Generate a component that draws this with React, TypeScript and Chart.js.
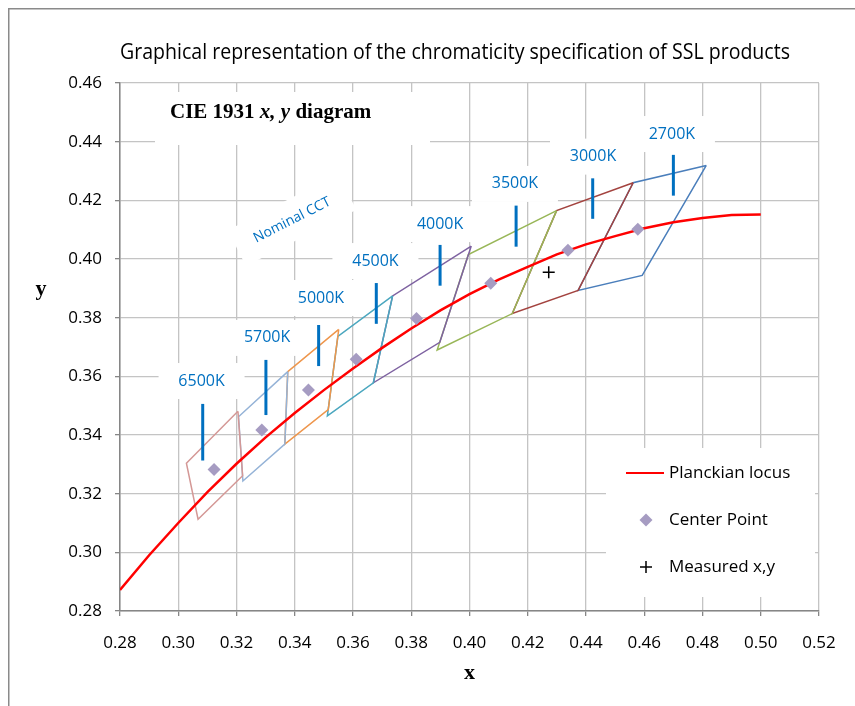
import React, { useEffect, useRef } from 'react';
import { Chart, registerables } from 'chart.js';

Chart.register(...registerables);

// ---------- data ----------
const cctNames = ['6500K', '5700K', '5000K', '4500K', '4000K', '3500K', '3000K', '2700K'];
const cctColors = ['#D49896', '#95B3D7', '#EE964C', '#4BA7BF', '#7E62A1', '#98B657', '#A3433F', '#4A7EBB'];
const centerX = [0.3123, 0.3287, 0.3447, 0.3611, 0.3818, 0.4073, 0.4338, 0.4578];
const centerY = [0.3282, 0.3417, 0.3553, 0.3658, 0.3797, 0.3917, 0.4030, 0.4101];
const quadX = [
  [0.3205, 0.3028, 0.3068, 0.3221, 0.3205],
  [0.3376, 0.3207, 0.3222, 0.3366, 0.3376],
  [0.3551, 0.3376, 0.3366, 0.3515, 0.3551],
  [0.3736, 0.3548, 0.3512, 0.3670, 0.3736],
  [0.4006, 0.3736, 0.3670, 0.3898, 0.4006],
  [0.4299, 0.3996, 0.3889, 0.4147, 0.4299],
  [0.4562, 0.4299, 0.4147, 0.4373, 0.4562],
  [0.4813, 0.4562, 0.4373, 0.4593, 0.4813],
];
const quadY = [
  [0.3481, 0.3304, 0.3113, 0.3261, 0.3481],
  [0.3616, 0.3462, 0.3243, 0.3369, 0.3616],
  [0.3760, 0.3616, 0.3369, 0.3487, 0.3760],
  [0.3874, 0.3736, 0.3465, 0.3578, 0.3874],
  [0.4044, 0.3874, 0.3578, 0.3716, 0.4044],
  [0.4165, 0.4015, 0.3690, 0.3814, 0.4165],
  [0.4260, 0.4165, 0.3814, 0.3893, 0.4260],
  [0.4319, 0.4260, 0.3893, 0.3944, 0.4319],
];
const markX = [0.3084, 0.3301, 0.3482, 0.3680, 0.3899, 0.4160, 0.4423, 0.4700];
const markYLow = [0.3313, 0.3468, 0.3635, 0.3779, 0.3909, 0.4042, 0.4137, 0.4216];
const markYHigh = [0.3506, 0.3656, 0.3775, 0.3918, 0.4048, 0.4182, 0.4275, 0.4355];
const labelX = [0.3080, 0.3305, 0.3490, 0.3677, 0.3899, 0.4156, 0.4424, 0.4695];
const labelY = [0.3584, 0.3731, 0.3867, 0.3993, 0.4119, 0.4256, 0.4349, 0.4426];
const nominalLabelX = 0.3391;
const nominalLabelY = 0.4133;
const planckX = [0.28, 0.29, 0.30, 0.31, 0.32, 0.33, 0.34, 0.35, 0.36, 0.37, 0.38, 0.39, 0.40, 0.41, 0.42, 0.43, 0.44, 0.45, 0.46, 0.47, 0.48, 0.49, 0.50];
const planckY = [0.2872, 0.2990, 0.3100, 0.3205, 0.3302, 0.3392, 0.3475, 0.3553, 0.3627, 0.3697, 0.3763, 0.3825, 0.3880, 0.3930, 0.3973, 0.4016, 0.4050, 0.4078, 0.4105, 0.4125, 0.4140, 0.4150, 0.4152];
const measuredX = [0.4272];
const measuredY = [0.3955];
const xTickValues = [0.28, 0.30, 0.32, 0.34, 0.36, 0.38, 0.40, 0.42, 0.44, 0.46, 0.48, 0.50, 0.52];
const xTickLabels = ['0.28', '0.30', '0.32', '0.34', '0.36', '0.38', '0.40', '0.42', '0.44', '0.46', '0.48', '0.50', '0.52'];
const yTickValues = [0.28, 0.30, 0.32, 0.34, 0.36, 0.38, 0.40, 0.42, 0.44, 0.46];
const yTickLabels = ['0.28', '0.30', '0.32', '0.34', '0.36', '0.38', '0.40', '0.42', '0.44', '0.46'];

const chartTitle = 'Graphical representation of the chromaticity specification of SSL products';
const legendLabels = ['Planckian locus', 'Center Point', 'Measured x,y'];

// ---------- styles ----------
const SANS = "'Open Sans', 'Noto Sans', sans-serif";
const SERIF = "'Liberation Serif', 'DejaVu Serif', serif";
const CCT_BLUE = '#0070C0';
const W = 847;
const H = 698;

const annotations = {
  id: 'annotations',
  beforeDatasetsDraw(chart: any) {
    const { ctx, chartArea, scales } = chart;
    const xs = scales.x;
    const ys = scales.y;
    ctx.save();
    ctx.fillStyle = '#ffffff';
    // "CIE 1931" box
    ctx.fillRect(chartArea.left + 35, chartArea.top + 9, 275, 53);
    // CCT label boxes
    for (let i = 0; i < cctNames.length; i++) {
      const px = xs.getPixelForValue(labelX[i]);
      const py = ys.getPixelForValue(labelY[i]);
      ctx.fillRect(px - 43, py - 18, 86, 36);
    }
    // Nominal CCT box
    const nx = xs.getPixelForValue(nominalLabelX);
    const ny = ys.getPixelForValue(nominalLabelY);
    ctx.save();
    ctx.translate(nx, ny);
    ctx.rotate(-27 * Math.PI / 180);
    ctx.fillRect(-62, -20, 124, 40);
    ctx.restore();
    // legend box
    ctx.fillRect(chartArea.right - 213, chartArea.bottom - 163, 209, 149);

    // texts
    ctx.fillStyle = CCT_BLUE;
    ctx.font = `16px ${SANS}`;
    ctx.textAlign = 'center';
    ctx.textBaseline = 'middle';
    for (let i = 0; i < cctNames.length; i++) {
      ctx.fillText(cctNames[i], xs.getPixelForValue(labelX[i]), ys.getPixelForValue(labelY[i]));
    }
    ctx.save();
    ctx.translate(nx, ny);
    ctx.rotate(-27 * Math.PI / 180);
    ctx.font = `14px ${SANS}`;
    ctx.fillText('Nominal CCT', 0, 0);
    ctx.restore();

    // CIE 1931 x, y diagram
    ctx.fillStyle = '#000';
    ctx.textAlign = 'left';
    let tx = chartArea.left + 50;
    const ty = chartArea.top + 30;
    const parts: [string, boolean][] = [['CIE 1931 ', false], ['x, y', true], [' diagram', false]];
    for (const [t, it] of parts) {
      ctx.font = `${it ? 'italic ' : ''}bold 21px ${SERIF}`;
      ctx.fillText(t, tx, ty);
      tx += ctx.measureText(t).width;
    }
    ctx.restore();
  },
  afterDatasetsDraw(chart: any) {
    const { ctx, chartArea } = chart;
    const left = chartArea.right - 213;
    const top = chartArea.bottom - 163;
    const ds = chart.data.datasets;
    const planck = ds.find((d: any) => d.label === legendLabels[0]);
    const centers = ds.find((d: any) => d.label === legendLabels[1]);
    const meas = ds.find((d: any) => d.label === legendLabels[2]);
    ctx.save();
    const rowY = [top + 25, top + 72, top + 119];
    const mx = left + 40;
    // line
    ctx.strokeStyle = planck.borderColor;
    ctx.lineWidth = 2;
    ctx.beginPath();
    ctx.moveTo(mx - 20, rowY[0]);
    ctx.lineTo(mx + 18, rowY[0]);
    ctx.stroke();
    // diamond
    ctx.fillStyle = centers.backgroundColor;
    const r = 6.5;
    ctx.beginPath();
    ctx.moveTo(mx - r, rowY[1]);
    ctx.lineTo(mx, rowY[1] - r);
    ctx.lineTo(mx + r, rowY[1]);
    ctx.lineTo(mx, rowY[1] + r);
    ctx.closePath();
    ctx.fill();
    // cross
    ctx.strokeStyle = meas.borderColor;
    ctx.lineWidth = 1.5;
    ctx.beginPath();
    ctx.moveTo(mx - 6, rowY[2]);
    ctx.lineTo(mx + 6, rowY[2]);
    ctx.moveTo(mx, rowY[2] - 6);
    ctx.lineTo(mx, rowY[2] + 6);
    ctx.stroke();
    // texts
    ctx.fillStyle = '#000';
    ctx.font = `17px ${SANS}`;
    ctx.textAlign = 'left';
    ctx.textBaseline = 'middle';
    for (let i = 0; i < 3; i++) ctx.fillText(legendLabels[i], left + 63, rowY[i]);
    ctx.restore();
  },
  afterDraw(chart: any) {
    const { ctx, chartArea } = chart;
    ctx.save();
    // outer frame (left and top edges visible)
    ctx.strokeStyle = '#8A8A8A';
    ctx.lineWidth = 1.5;
    ctx.beginPath();
    ctx.moveTo(0.75, H);
    ctx.lineTo(0.75, 0.75);
    ctx.lineTo(W, 0.75);
    ctx.stroke();
    // title
    ctx.fillStyle = '#000';
    ctx.textAlign = 'center';
    ctx.textBaseline = 'alphabetic';
    ctx.font = `21px ${SANS}`;
    const tw = ctx.measureText(chartTitle).width;
    const target = 670;
    ctx.save();
    ctx.translate(447, 51);
    ctx.scale(Math.min(1, target / tw), 1);
    ctx.fillText(chartTitle, 0, 0);
    ctx.restore();
    // axis titles
    ctx.textBaseline = 'middle';
    ctx.font = `bold 22px ${SERIF}`;
    ctx.fillText('y', 33, 281);
    ctx.fillText('x', (chartArea.left + chartArea.right) / 2, 665);
    ctx.restore();
  },
};

export default function App() {
  const ref = useRef<HTMLCanvasElement | null>(null);
  useEffect(() => {
    if (!ref.current) return;
    const datasets: any[] = [];
    datasets.push({
      label: legendLabels[2],
      data: measuredX.map((x, i) => ({ x, y: measuredY[i] })),
      pointStyle: 'cross',
      pointRadius: 6,
      borderColor: '#000000',
      backgroundColor: '#000000',
      pointBorderWidth: 1.5,
      showLine: false,
      order: 0,
    });
    datasets.push({
      label: legendLabels[1],
      data: centerX.map((x, i) => ({ x, y: centerY[i] })),
      pointStyle: 'rectRot',
      pointRadius: 6.5,
      backgroundColor: '#A69CC2',
      borderColor: '#A69CC2',
      pointBorderWidth: 0,
      showLine: false,
      order: 1,
    });
    datasets.push({
      label: legendLabels[0],
      data: planckX.map((x, i) => ({ x, y: planckY[i] })),
      borderColor: '#FF0000',
      borderWidth: 2.5,
      pointRadius: 0,
      showLine: true,
      tension: 0,
      order: 2,
    });
    cctNames.forEach((n, i) => {
      datasets.push({
        label: 'mark ' + n,
        data: [{ x: markX[i], y: markYLow[i] }, { x: markX[i], y: markYHigh[i] }],
        borderColor: CCT_BLUE,
        borderWidth: 3,
        pointRadius: 0,
        showLine: true,
        order: 3,
      });
    });
    cctNames.forEach((n, i) => {
      datasets.push({
        label: n,
        data: quadX[i].map((x, j) => ({ x, y: quadY[i][j] })),
        borderColor: cctColors[i],
        borderWidth: 1.5,
        pointRadius: 0,
        showLine: true,
        tension: 0,
        order: 4 + i,
      });
    });

    const chart = new Chart(ref.current, {
      type: 'scatter',
      data: { datasets },
      options: {
        animation: false,
        responsive: false,
        events: [],
        layout: { padding: { left: 0, right: 36, top: 75, bottom: 0 } },
        plugins: {
          legend: { display: false },
          tooltip: { enabled: false },
          title: { display: false },
        },
        scales: {
          x: {
            type: 'linear',
            min: 0.28,
            max: 0.52,
            afterBuildTicks: (s: any) => { s.ticks = xTickValues.map((v) => ({ value: v })); },
            afterFit: (s: any) => { s.height = 95; },
            ticks: {
              callback: (_v: any, i: number) => xTickLabels[i],
              font: { family: SANS, size: 17 },
              color: '#000',
              padding: 17,
              maxRotation: 0,
              autoSkip: false,
            },
            grid: { color: '#C4C4C4', lineWidth: 1.3, tickLength: 5, tickColor: '#868686', drawTicks: true },
            border: { color: '#868686', width: 1.5 },
          },
          y: {
            type: 'linear',
            min: 0.28,
            max: 0.46,
            afterBuildTicks: (s: any) => { s.ticks = yTickValues.map((v) => ({ value: v })); },
            afterFit: (s: any) => { s.width = 112; },
            ticks: {
              callback: (_v: any, i: number) => yTickLabels[i],
              font: { family: SANS, size: 17 },
              color: '#000',
              padding: 13,
              autoSkip: false,
            },
            grid: { color: '#C4C4C4', lineWidth: 1.3, tickLength: 5, tickColor: '#868686', drawTicks: true },
            border: { color: '#868686', width: 1.5 },
          },
        },
      },
      plugins: [annotations],
    });
    return () => chart.destroy();
  }, []);

  return (
    <div style={{ position: 'fixed', left: 8, top: 8, width: W, height: H, background: '#fff' }}>
      <canvas ref={ref} width={W} height={H} style={{ width: W, height: H, display: 'block' }} />
    </div>
  );
}
